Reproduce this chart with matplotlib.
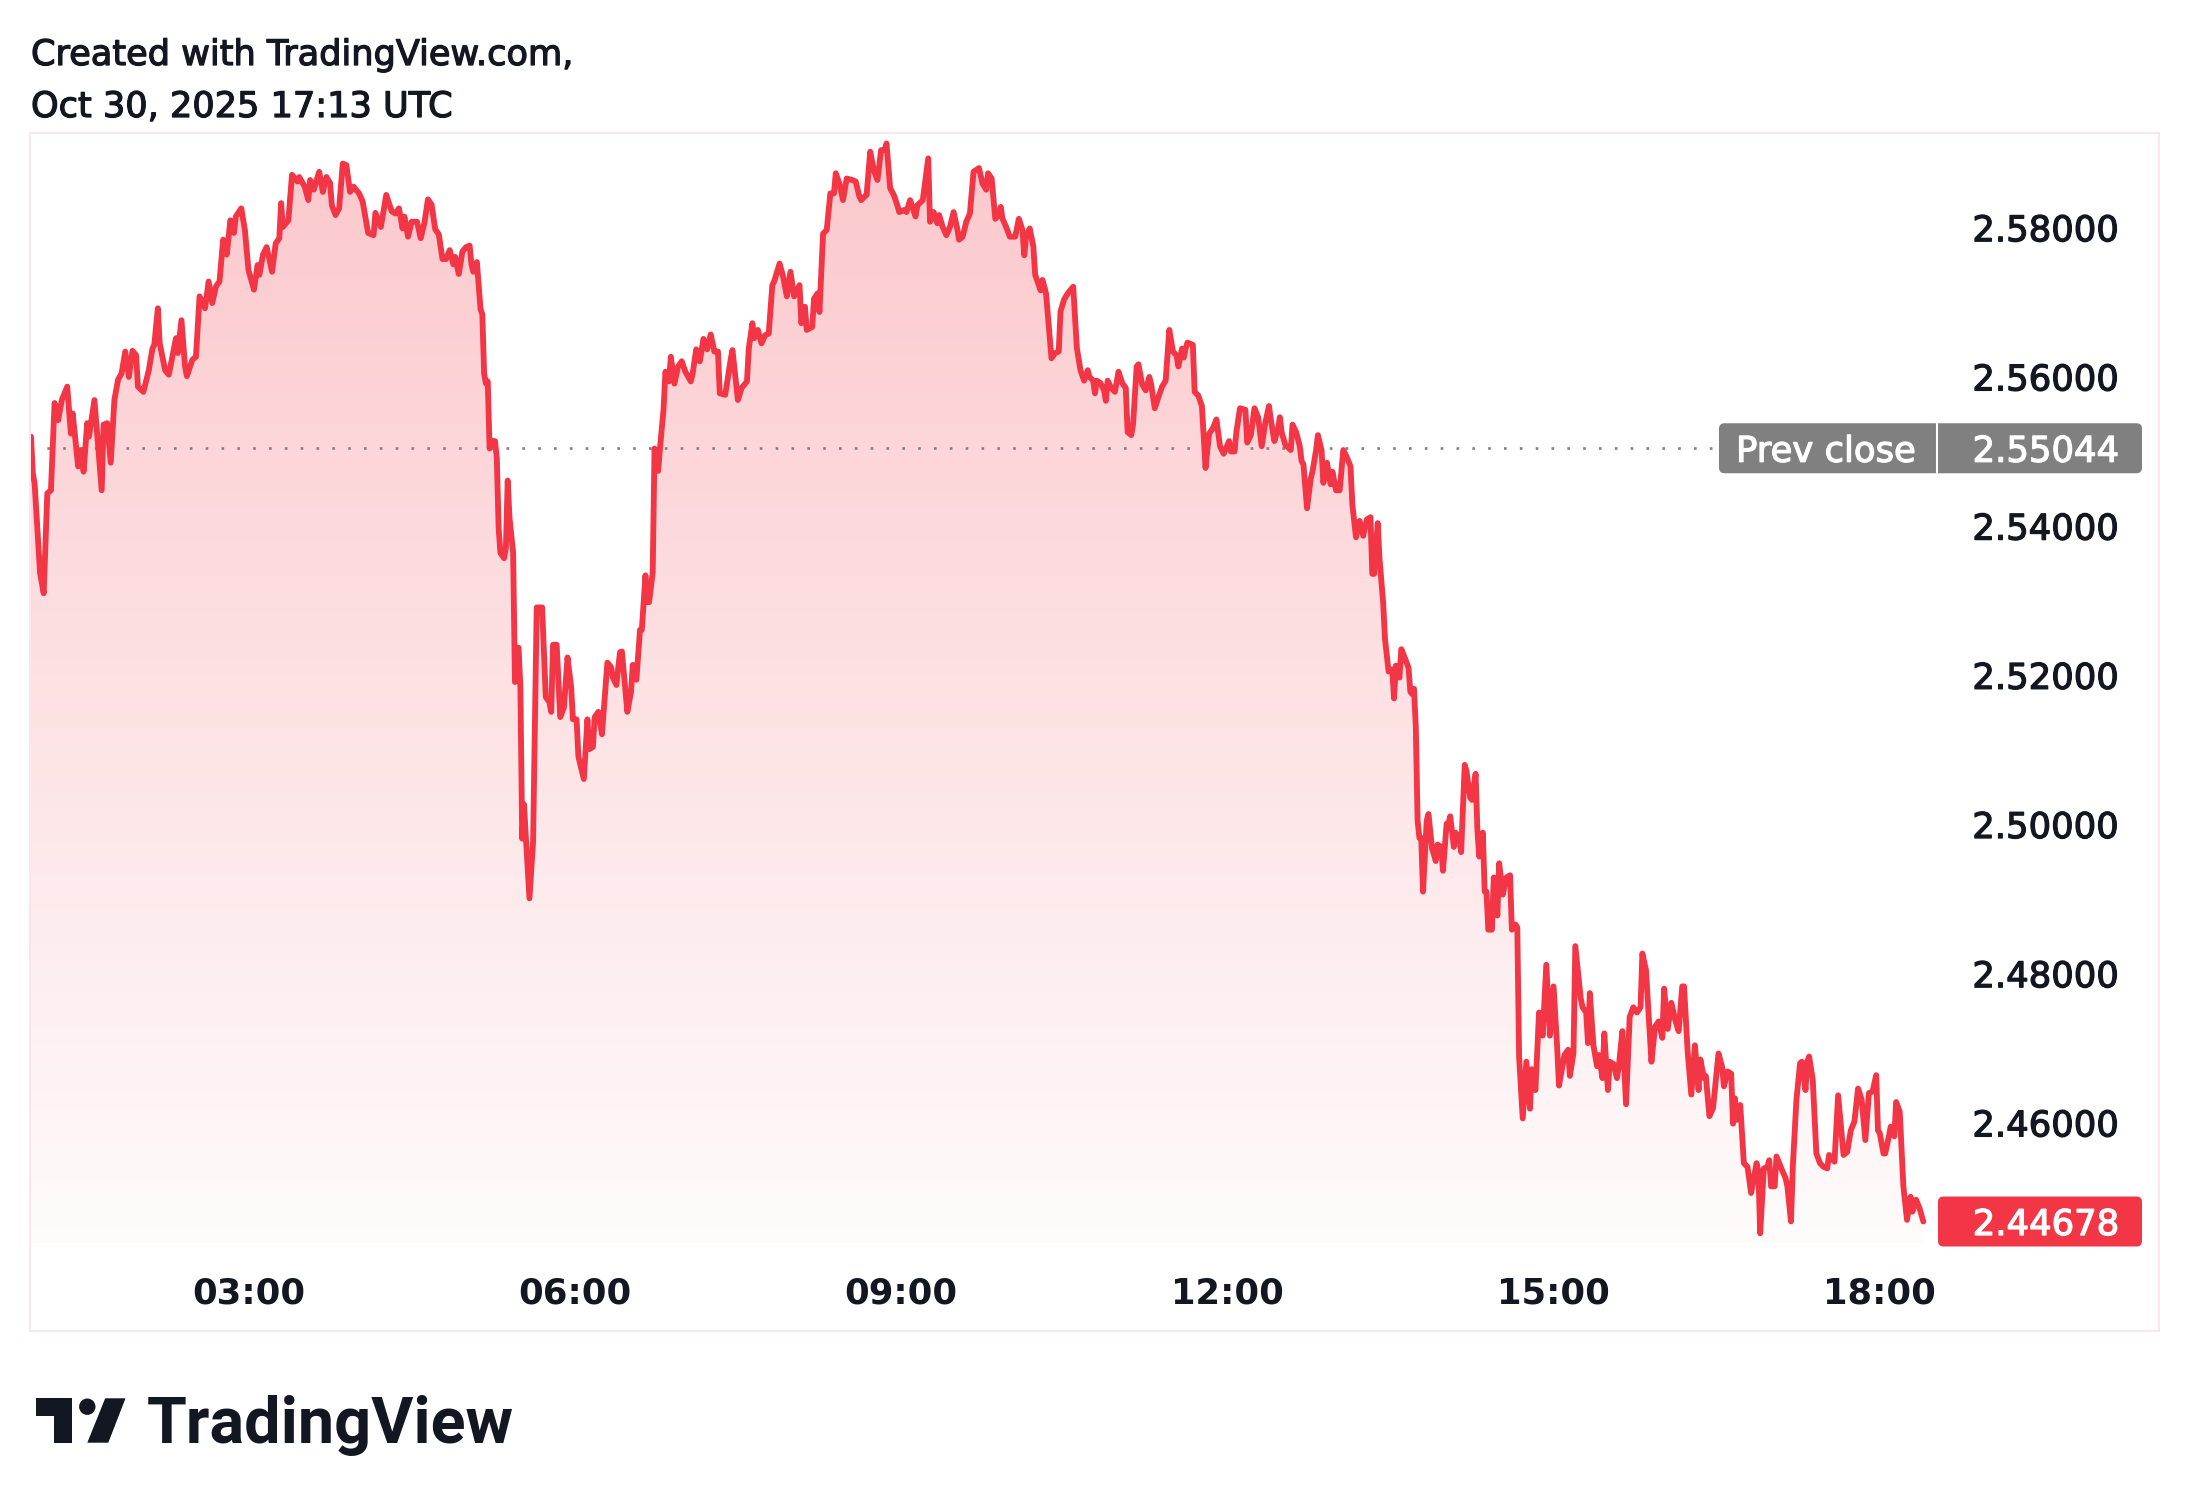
import matplotlib
matplotlib.use("Agg")
import matplotlib.pyplot as plt
import matplotlib.dates as mdates
import matplotlib.transforms as mtransforms
import matplotlib.patheffects as pe
import numpy as np
import pandas as pd
from matplotlib.colors import to_rgb
from matplotlib.lines import Line2D
from matplotlib.patches import FancyBboxPatch, Rectangle, Polygon, Circle

# session data (minutes after 01:00, price)
session_start = "2025-10-30 01:00"
minutes = [
    0, 1, 2, 5, 7, 9, 11, 13, 15, 17, 20, 22, 23, 26, 28, 29, 31, 32, 35, 39,
    40, 42, 44, 46, 48, 50, 52, 54, 56, 58, 59, 62, 65, 67, 68, 70, 71, 74, 76, 78,
    80, 81, 83, 85, 86, 89, 91, 93, 96, 98, 100, 102, 104, 106, 108, 110, 112, 113, 116, 118,
    120, 123, 125, 126, 128, 130, 132, 133, 135, 137, 138, 139, 142, 144, 147, 148, 151, 153, 154, 156,
    159, 161, 163, 165, 166, 168, 170, 172, 174, 176, 178, 181, 183, 186, 189, 190, 193, 196, 199, 201,
    203, 205, 206, 208, 210, 213, 215, 217, 219, 221, 223, 225, 227, 229, 231, 233, 234, 236, 238, 240,
    242, 243, 244, 246, 248, 249, 250, 251, 252, 253, 254, 256, 257, 258, 259, 261, 262, 263, 264, 266,
    267, 268, 269, 270, 271, 272, 273, 275, 277, 279, 280, 282, 284, 286, 287, 288, 290, 292, 294, 296,
    298, 299, 301, 302, 305, 307, 308, 310, 311, 313, 315, 318, 320, 321, 323, 324, 325, 326, 328, 329,
    331, 332, 334, 336, 337, 339, 340, 341, 343, 344, 346, 347, 349, 350, 352, 353, 355, 357, 359, 361,
    364, 365, 367, 369, 371, 373, 375, 377, 379, 380, 383, 386, 387, 390, 392, 395, 396, 398, 399, 401,
    403, 405, 407, 409, 410, 413, 415, 417, 419, 421, 424, 425, 427, 428, 431, 432, 434, 435, 437, 439,
    441, 443, 444, 446, 448, 450, 453, 455, 457, 458, 460, 461, 463, 465, 467, 469, 471, 472, 474, 476,
    478, 479, 482, 483, 485, 488, 489, 492, 495, 496, 498, 500, 501, 503, 505, 507, 509, 511, 512, 514,
    516, 518, 520, 523, 525, 527, 528, 530, 532, 534, 535, 536, 538, 540, 543, 545, 547, 548, 549, 551,
    553, 554, 557, 558, 560, 563, 565, 567, 568, 570, 572, 575, 577, 579, 581, 583, 584, 586, 587, 588,
    590, 592, 593, 594, 596, 598, 600, 602, 604, 605, 607, 608, 610, 611, 613, 615, 617, 618, 620, 622,
    624, 626, 627, 628, 630, 632, 633, 635, 636, 637, 638, 641, 642, 644, 646, 648, 649, 650, 652, 654,
    656, 658, 661, 662, 664, 665, 667, 670, 671, 673, 675, 677, 679, 681, 683, 684, 686, 688, 689, 690,
    692, 695, 696, 698, 700, 701, 702, 704, 706, 707, 709, 710, 712, 713, 715, 717, 718, 720, 722, 724,
    726, 728, 729, 731, 733, 735, 737, 739, 740, 741, 743, 744, 746, 747, 749, 751, 752, 753, 755, 756,
    758, 760, 761, 762, 763, 764, 765, 766, 767, 768, 770, 771, 773, 774, 775, 776, 778, 779, 781, 782,
    783, 785, 786, 788, 789, 791, 792, 794, 795, 797, 798, 799, 801, 802, 803, 804, 806, 807, 809, 810,
    812, 814, 816, 817, 819, 820, 821, 823, 825, 827, 828, 830, 832, 834, 836, 838, 840, 842, 843, 846,
    848, 849, 851, 852, 855, 856, 858, 859, 860, 862, 864, 865, 867, 868, 870, 871, 873, 875, 876, 878,
    880, 882, 884, 886, 888, 889, 891, 894, 896, 898, 900, 901, 903, 905, 907, 909, 911, 912, 914, 916,
    918, 920, 921, 923, 924, 926, 928, 931, 933, 934, 936, 938, 939, 940, 941, 943, 945, 947, 949, 952,
    953, 954, 956, 958, 959, 960, 962, 963, 966, 968, 969, 971, 972, 974, 976, 977, 979, 980, 981, 983,
    985, 987, 989, 991, 992, 995, 997, 1000, 1002, 1004, 1006, 1008, 1010, 1012, 1014, 1016, 1018, 1019, 1020, 1022,
    1023, 1025, 1026, 1028, 1029, 1031, 1033, 1035, 1037, 1038, 1040, 1042, 1044,
]
prices = [
    2.5520, 2.5471, 2.5457, 2.5337, 2.5310, 2.5444, 2.5448, 2.5565, 2.5542, 2.5569, 2.5587, 2.5524, 2.5551, 2.5480, 2.5502, 2.5473, 2.5538, 2.5520, 2.5569, 2.5448,
    2.5536, 2.5538, 2.5485, 2.5569, 2.5596, 2.5605, 2.5634, 2.5600, 2.5635, 2.5629, 2.5587, 2.5580, 2.5609, 2.5638, 2.5643, 2.5692, 2.5645, 2.5609, 2.5603, 2.5627,
    2.5652, 2.5632, 2.5676, 2.5614, 2.5601, 2.5623, 2.5627, 2.5708, 2.5692, 2.5728, 2.5699, 2.5721, 2.5728, 2.5784, 2.5764, 2.5810, 2.5793, 2.5815, 2.5826, 2.5797,
    2.5743, 2.5717, 2.5750, 2.5737, 2.5764, 2.5774, 2.5752, 2.5741, 2.5779, 2.5786, 2.5833, 2.5801, 2.5810, 2.5871, 2.5862, 2.5868, 2.5855, 2.5837, 2.5864, 2.5851,
    2.5875, 2.5848, 2.5868, 2.5860, 2.5830, 2.5817, 2.5826, 2.5886, 2.5884, 2.5848, 2.5855, 2.5846, 2.5835, 2.5793, 2.5790, 2.5820, 2.5801, 2.5844, 2.5822, 2.5819,
    2.5826, 2.5799, 2.5815, 2.5788, 2.5808, 2.5808, 2.5786, 2.5806, 2.5838, 2.5831, 2.5798, 2.5791, 2.5758, 2.5758, 2.5770, 2.5751, 2.5761, 2.5738, 2.5768, 2.5774,
    2.5776, 2.5751, 2.5741, 2.5754, 2.5691, 2.5684, 2.5604, 2.5591, 2.5594, 2.5504, 2.5514, 2.5514, 2.5491, 2.5397, 2.5364, 2.5357, 2.5371, 2.5461, 2.5411, 2.5364,
    2.5191, 2.5237, 2.5237, 2.5184, 2.4981, 2.5027, 2.4984, 2.4901, 2.4977, 2.5291, 2.5291, 2.5291, 2.5171, 2.5164, 2.5151, 2.5241, 2.5241, 2.5144, 2.5157, 2.5224,
    2.5184, 2.5141, 2.5141, 2.5091, 2.5061, 2.5141, 2.5101, 2.5104, 2.5144, 2.5151, 2.5121, 2.5217, 2.5211, 2.5197, 2.5187, 2.5211, 2.5231, 2.5232, 2.5177, 2.5151,
    2.5177, 2.5214, 2.5194, 2.5261, 2.5261, 2.5334, 2.5298, 2.5298, 2.5338, 2.5504, 2.5474, 2.5504, 2.5557, 2.5607, 2.5594, 2.5627, 2.5591, 2.5614, 2.5621, 2.5607,
    2.5594, 2.5604, 2.5637, 2.5621, 2.5651, 2.5637, 2.5657, 2.5634, 2.5634, 2.5578, 2.5576, 2.5623, 2.5636, 2.5569, 2.5585, 2.5594, 2.5638, 2.5672, 2.5652, 2.5663,
    2.5645, 2.5656, 2.5658, 2.5723, 2.5728, 2.5752, 2.5734, 2.5708, 2.5741, 2.5708, 2.5723, 2.5672, 2.5694, 2.5663, 2.5667, 2.5705, 2.5712, 2.5687, 2.5792, 2.5797,
    2.5846, 2.5846, 2.5873, 2.5859, 2.5837, 2.5866, 2.5864, 2.5862, 2.5842, 2.5837, 2.5842, 2.5844, 2.5902, 2.5877, 2.5864, 2.5904, 2.5904, 2.5913, 2.5853, 2.5844,
    2.5830, 2.5821, 2.5824, 2.5821, 2.5837, 2.5815, 2.5830, 2.5837, 2.5893, 2.5808, 2.5821, 2.5806, 2.5817, 2.5801, 2.5790, 2.5801, 2.5821, 2.5799, 2.5784, 2.5788,
    2.5808, 2.5819, 2.5875, 2.5880, 2.5859, 2.5851, 2.5873, 2.5866, 2.5812, 2.5817, 2.5828, 2.5812, 2.5801, 2.5788, 2.5788, 2.5812, 2.5797, 2.5763, 2.5788, 2.5799,
    2.5775, 2.5737, 2.5716, 2.5730, 2.5712, 2.5625, 2.5632, 2.5634, 2.5688, 2.5704, 2.5712, 2.5721, 2.5639, 2.5609, 2.5595, 2.5609, 2.5600, 2.5595, 2.5578, 2.5595,
    2.5592, 2.5582, 2.5568, 2.5595, 2.5585, 2.5580, 2.5607, 2.5592, 2.5585, 2.5526, 2.5522, 2.5536, 2.5614, 2.5617, 2.5590, 2.5582, 2.5600, 2.5590, 2.5558, 2.5573,
    2.5587, 2.5595, 2.5629, 2.5663, 2.5634, 2.5629, 2.5614, 2.5638, 2.5626, 2.5638, 2.5646, 2.5643, 2.5580, 2.5575, 2.5561, 2.5478, 2.5502, 2.5524, 2.5531, 2.5543,
    2.5507, 2.5497, 2.5514, 2.5500, 2.5500, 2.5526, 2.5558, 2.5556, 2.5512, 2.5522, 2.5558, 2.5546, 2.5507, 2.5539, 2.5561, 2.5543, 2.5514, 2.5531, 2.5546, 2.5526,
    2.5509, 2.5502, 2.5536, 2.5526, 2.5507, 2.5487, 2.5483, 2.5424, 2.5463, 2.5473, 2.5502, 2.5522, 2.5502, 2.5458, 2.5485, 2.5456, 2.5473, 2.5448, 2.5448, 2.5502,
    2.5492, 2.5480, 2.5429, 2.5385, 2.5407, 2.5387, 2.5409, 2.5412, 2.5336, 2.5336, 2.5404, 2.5356, 2.5297, 2.5249, 2.5205, 2.5208, 2.5169, 2.5213, 2.5197, 2.5235,
    2.5223, 2.5210, 2.5178, 2.5175, 2.5182, 2.5131, 2.5005, 2.4982, 2.4982, 2.4910, 2.5005, 2.5014, 2.4967, 2.4960, 2.4951, 2.4973, 2.4970, 2.4938, 2.5001, 2.5001,
    2.5011, 2.4970, 2.4989, 2.4982, 2.4963, 2.5080, 2.5071, 2.5036, 2.5033, 2.5068, 2.4992, 2.4957, 2.4989, 2.4910, 2.4910, 2.4859, 2.4859, 2.4929, 2.4878, 2.4948,
    2.4906, 2.4929, 2.4932, 2.4859, 2.4866, 2.4862, 2.4688, 2.4606, 2.4682, 2.4619, 2.4672, 2.4644, 2.4748, 2.4717, 2.4812, 2.4717, 2.4783, 2.4701, 2.4650, 2.4691,
    2.4698, 2.4663, 2.4694, 2.4837, 2.4767, 2.4755, 2.4748, 2.4707, 2.4774, 2.4704, 2.4676, 2.4691, 2.4660, 2.4720, 2.4644, 2.4682, 2.4679, 2.4660, 2.4676, 2.4723,
    2.4625, 2.4742, 2.4755, 2.4748, 2.4755, 2.4827, 2.4805, 2.4682, 2.4729, 2.4736, 2.4714, 2.4780, 2.4726, 2.4761, 2.4739, 2.4723, 2.4783, 2.4783, 2.4695, 2.4638,
    2.4704, 2.4644, 2.4685, 2.4660, 2.4663, 2.4609, 2.4620, 2.4693, 2.4675, 2.4649, 2.4669, 2.4666, 2.4599, 2.4633, 2.4604, 2.4624, 2.4546, 2.4541, 2.4506, 2.4546,
    2.4535, 2.4452, 2.4539, 2.4541, 2.4550, 2.4515, 2.4515, 2.4555, 2.4537, 2.4526, 2.4515, 2.4468, 2.4541, 2.4631, 2.4680, 2.4682, 2.4644, 2.4682, 2.4689, 2.4658,
    2.4559, 2.4546, 2.4541, 2.4539, 2.4557, 2.4548, 2.4637, 2.4557, 2.4561, 2.4590, 2.4602, 2.4646, 2.4631, 2.4577, 2.4640, 2.4642, 2.4664, 2.4590, 2.4586, 2.4559,
    2.4559, 2.4582, 2.4595, 2.4582, 2.4628, 2.4615, 2.4515, 2.4470, 2.4501, 2.4481, 2.4497, 2.4485, 2.44678,
]
prev_close = 2.55044
last_price = prices[-1]
price_ticks = [2.46, 2.48, 2.50, 2.52, 2.54, 2.56, 2.58]
time_ticks = ["03:00", "06:00", "09:00", "12:00", "15:00", "18:00"]
header = ["Created with TradingView.com,", "Oct 30, 2025 17:13 UTC"]

RED = "#F23645"
INK = "#131722"
GREY = "#808080"
W, H = 2190, 1512


def fx(px):
    return px / W


def fy(py):
    return 1 - py / H


def medium(color):
    # DejaVu has no medium weight, thicken the regular glyphs a little
    return [pe.withStroke(linewidth=0.9, foreground=color)]


plt.rcParams["font.family"] = ["DejaVu Sans"]

start = pd.Timestamp(session_start)
x = mdates.date2num((start + pd.to_timedelta(minutes, unit="min")).values)
xmin = mdates.date2num(start)
xmax = xmin + 1051 / 1440
ylo, yhi = 2.4439, 2.5927

fig = plt.figure(figsize=(W / 100, H / 100), dpi=100, facecolor="white")
ax = fig.add_axes([fx(31), fy(1243), fx(1936) - fx(31), fy(133) - fy(1243)])
ax.set_facecolor("white")

# gradient area under the line
area = Polygon(np.column_stack([np.r_[x[0], x, x[-1]], np.r_[ylo, prices, ylo]]),
               closed=True, facecolor="none", edgecolor="none", transform=ax.transData)
ax.add_patch(area)
grad = np.zeros((256, 1, 4))
grad[..., :3] = to_rgb(RED)
grad[:, 0, 3] = np.linspace(0.28, 0.02, 256)
img = ax.imshow(grad, extent=[xmin, xmax, ylo, yhi], aspect="auto", origin="upper", zorder=1)
img.set_clip_path(area)

ax.plot(x, prices, color=RED, lw=4.2, solid_joinstyle="round", solid_capstyle="round", zorder=3)
ax.axhline(prev_close, xmin=0, xmax=(1719 - 31) / (1936 - 31), color=GREY, lw=1.9,
           linestyle=(0, (1, 5)), dash_capstyle="butt", zorder=2)

ax.set_xlim(xmin, xmax)
ax.set_ylim(ylo, yhi)
for s in ax.spines.values():
    s.set_visible(False)
ax.set_yticks([])
tick_pos = mdates.date2num(pd.to_datetime([session_start[:11] + t for t in time_ticks]).values)
ax.set_xticks(tick_pos, labels=time_ticks, fontsize=25.5, fontweight="bold", color=INK)
ax.tick_params(axis="x", length=0, pad=24)

# price scale
blend = mtransforms.blended_transform_factory(fig.transFigure, ax.transData)
for p in price_ticks:
    ax.text(fx(2119), p, f"{p:.5f}", transform=blend, ha="right", va="center_baseline",
            fontsize=25.5, color=INK, path_effects=medium(INK))


def label_box(value, x0, x1, color):
    yc = ax.transData.transform((0, value))[1] / H
    box = FancyBboxPatch((fx(x0), yc - 25 / H), fx(x1) - fx(x0), 50 / H,
                         boxstyle="round,pad=0,rounding_size=0.0025", mutation_aspect=W / H,
                         facecolor=color, edgecolor="none", transform=fig.transFigure)
    fig.add_artist(box)
    return yc


yc = label_box(prev_close, 1719, 2142, GREY)
fig.add_artist(Line2D([fx(1936.5)] * 2, [yc - 25 / H, yc + 25 / H], color="white", lw=1.5,
                      transform=fig.transFigure))
fig.text(fx(1826), yc, "Prev close", ha="center", va="center_baseline", fontsize=25.5,
         color="white", path_effects=medium("white"))
fig.text(fx(2119), yc, f"{prev_close:.5f}", ha="right", va="center_baseline", fontsize=25.5,
         color="white", path_effects=medium("white"))

yc = label_box(last_price, 1938, 2142, RED)
fig.text(fx(2119), yc, f"{last_price:.5f}", ha="right", va="center_baseline", fontsize=25.5,
         color="white", path_effects=medium("white"))

# pane frame
fig.add_artist(Rectangle((fx(30), fy(1331)), fx(2159) - fx(30), fy(133) - fy(1331), fill=False,
                         edgecolor="#fbe3e7", lw=1.2, transform=fig.transFigure))

# header
fig.text(fx(31), fy(65), header[0], va="baseline", fontsize=25.3, color=INK, path_effects=medium(INK))
fig.text(fx(31), fy(117), header[1], va="baseline", fontsize=25.3, color=INK, path_effects=medium(INK))

# logo
fig.add_artist(Rectangle((fx(36.4), fy(1416)), fx(71.9) - fx(36.4), fy(1398.3) - fy(1416),
                         facecolor=INK, edgecolor="none", transform=fig.transFigure))
fig.add_artist(Rectangle((fx(53.6), fy(1442.7)), fx(71.9) - fx(53.6), fy(1398.3) - fy(1442.7),
                         facecolor=INK, edgecolor="none", transform=fig.transFigure))
fig.add_artist(Polygon([(fx(105.2), fy(1398.3)), (fx(125.5), fy(1398.3)),
                        (fx(108.3), fy(1442.7)), (fx(87.3), fy(1442.7))],
                       closed=True, facecolor=INK, edgecolor="none", transform=fig.transFigure))
fig.add_artist(Circle((87.3, 1512 - 1406.7), 8.2, facecolor=INK, edgecolor="none",
                      transform=mtransforms.IdentityTransform()))
fig.text(fx(147), fy(1443), "TradingView", va="baseline", fontsize=46.5, fontweight="bold",
         family="Roboto", color=INK)

fig.savefig("out.png", dpi=100, facecolor="white")
